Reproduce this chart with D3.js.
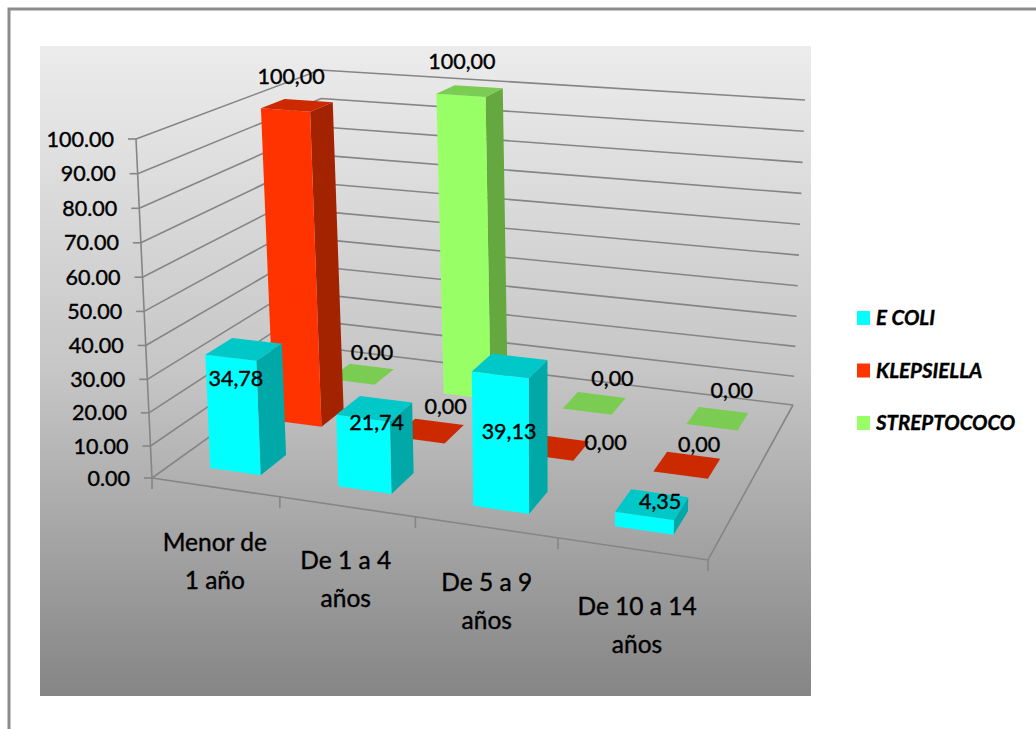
<!DOCTYPE html>
<html lang="es">
<head>
<meta charset="utf-8">
<title>Bacterias por grupo de edad</title>
<script src="https://cdn.jsdelivr.net/npm/d3@7/dist/d3.min.js"></script>
<style>
  html, body { margin: 0; padding: 0; background: #fff; }
  svg { display: block; }
  text { font-family: Lato, "Open Sans", sans-serif; fill: #000; stroke: #000; stroke-width: 0.4px; }
</style>
</head>
<body>
<svg id="chart" width="1036" height="729"></svg>
<script>
// Data
const categories = [["Menor de", "1 año"], ["De 1 a 4", "años"], ["De 5 a 9", "años"], ["De 10 a 14", "años"]];
const seriesNames = ["E COLI", "KLEPSIELLA", "STREPTOCOCO"];
const eColi = [34.78, 21.74, 39.13, 4.35];
const klepsiella = [100, 0, 0, 0];
const streptococo = [0, 100, 0, 0];
const eColiLabels = ["34,78", "21,74", "39,13", "4,35"];
const klepsiellaLabels = ["100,00", "0,00", "0,00", "0,00"];
const streptococoLabels = ["0.00", "100,00", "0,00", "0,00"];
const valueTicks = [0, 10, 20, 30, 40, 50, 60, 70, 80, 90, 100];

const seriesValues = [eColi, klepsiella, streptococo];
const seriesLabels = [eColiLabels, klepsiellaLabels, streptococoLabels];

// Face colours per series
const palette = [
  { front: "#00ffff", top: "#00c8c8", side: "#00a8a8" },
  { front: "#ff3300", top: "#cc2900", side: "#a32300" },
  { front: "#99ff66", top: "#7acc52", side: "#64a83f" }
];

// Scene corners: floor and the plane at the axis maximum
const floorQuad = [[152, 478], [708, 560], [793, 405], [332, 349]];
const ceilQuad = [[136, 139], [720, 185], [805, 100], [320, 70]];

// Maps the unit square onto a quadrilateral with a perspective homography
function homography([p0, p1, p2, p3]) {
  const dx1 = p1[0] - p2[0], dx2 = p3[0] - p2[0], sx = p0[0] - p1[0] + p2[0] - p3[0];
  const dy1 = p1[1] - p2[1], dy2 = p3[1] - p2[1], sy = p0[1] - p1[1] + p2[1] - p3[1];
  const det = dx1 * dy2 - dx2 * dy1;
  const g = (sx * dy2 - dx2 * sy) / det, h = (dx1 * sy - sx * dy1) / det;
  const a = p1[0] - p0[0] + g * p1[0], b = p3[0] - p0[0] + h * p3[0];
  const d = p1[1] - p0[1] + g * p1[1], e = p3[1] - p0[1] + h * p3[1];
  return (s, t) => {
    const w = g * s + h * t + 1;
    return [(a * s + b * t + p0[0]) / w, (d * s + e * t + p0[1]) / w];
  };
}
const onFloor = homography(floorQuad);
const onCeil = homography(ceilQuad);

// Library scales for the three chart dimensions; the power scales stand in for extra foreshortening
const catScale = d3.scaleBand().domain(d3.range(categories.length)).range([0, 1]).paddingInner(0.6).paddingOuter(0.3);
const serScale = d3.scaleBand().domain(d3.range(seriesNames.length)).range([0, 1]).paddingInner(0.6).paddingOuter(0.3);
const valScale = d3.scalePow().exponent(1.025).domain([0, 100]).range([0, 1]);
const catEdge = d3.scaleLinear().domain([0, categories.length]).range([0, 1]);
const widthWarp = d3.scalePow().exponent(1.01).domain([0, 1]).range([0, 1]);

function project(s, t, value) {
  // The width warp fades out towards the back wall
  const su = d3.interpolateNumber(widthWarp(s), s)(t);
  const f = onFloor(su, t), c = onCeil(su, t), k = valScale(value);
  return [d3.interpolateNumber(f[0], c[0])(k), d3.interpolateNumber(f[1], c[1])(k)];
}

const svg = d3.select("#chart");
const defs = svg.append("defs");
const grad = defs.append("linearGradient").attr("id", "plotFill").attr("x1", 0).attr("y1", 0).attr("x2", 0).attr("y2", 1);
[[0, "#ececec"], [0.5, "#c6c6c6"], [1, "#858585"]].forEach(([o, c]) =>
  grad.append("stop").attr("offset", o).attr("stop-color", c));

// Outer frame and chart background
svg.append("rect").attr("x", 9).attr("y", 9).attr("width", 1100).attr("height", 800)
  .attr("fill", "#fff").attr("stroke", "#8c8c8c").attr("stroke-width", 3);
svg.append("rect").attr("x", 40).attr("y", 46).attr("width", 771).attr("height", 650).attr("fill", "url(#plotFill)");

const lineGen = d3.line();
const grid = svg.append("g").attr("fill", "none").attr("stroke", "#858585").attr("stroke-width", 1.6);

// Gridlines along the side and back walls
valueTicks.forEach(v => {
  grid.append("path").attr("d", lineGen([project(0, 0, v), project(0, 1, v), project(1, 1, v)]));
});

// Value axis with tick stubs and labels
grid.append("path").attr("d", lineGen([project(0, 0, 0), project(0, 0, 100)]));
valueTicks.forEach(v => {
  const p = project(0, 0, v);
  grid.append("path").attr("d", lineGen([[p[0] - 8, p[1]], p]));
  svg.append("text").attr("x", p[0] - 22).attr("y", p[1]).attr("dy", "0.35em")
    .attr("text-anchor", "end").attr("font-size", 21.5).text(d3.format(".2f")(v));
});

// Front and right floor edges with category ticks
grid.append("path").attr("d", lineGen([project(0, 0, 0), project(1, 0, 0), project(1, 1, 0)]));
d3.range(categories.length + 1).forEach(i => {
  const p = project(catEdge(i), 0, 0);
  grid.append("path").attr("d", lineGen([p, [p[0], p[1] + 11]]));
});

// Category labels, two lines each
const categoryNudge = [[0, 0], [-1, -1], [1, 0], [5, 3]];
categories.forEach((lines, i) => {
  const p = project(catEdge(i + 0.5), 0, 0);
  lines.forEach((line, j) => {
    svg.append("text").attr("x", p[0] + categoryNudge[i][0]).attr("y", p[1] + categoryNudge[i][1] + 55 + j * 38).attr("dy", "0.35em")
      .attr("text-anchor", "middle").attr("font-size", 24.5).text(line);
  });
});

// Bars, drawn from the back series to the front one, left to right
const bars = svg.append("g");
const poly = pts => lineGen(pts) + "Z";
d3.range(seriesNames.length).reverse().forEach(si => {
  categories.forEach((_, ci) => {
    const value = seriesValues[si][ci];
    const s0 = catScale(ci), s1 = s0 + catScale.bandwidth();
    const t0 = serScale(si), t1 = t0 + serScale.bandwidth();
    const col = palette[si];
    if (value > 0) {
      bars.append("path").attr("fill", col.side)
        .attr("d", poly([project(s1, t0, 0), project(s1, t1, 0), project(s1, t1, value), project(s1, t0, value)]));
      bars.append("path").attr("fill", col.front)
        .attr("d", poly([project(s0, t0, 0), project(s1, t0, 0), project(s1, t0, value), project(s0, t0, value)]));
    }
    bars.append("path").attr("fill", col.top)
      .attr("d", poly([project(s0, t0, value), project(s1, t0, value), project(s1, t1, value), project(s0, t1, value)]));
  });
});

// Data labels above or inside each bar
const labelNudge = [
  [[-8, 29], [2, 14], [-1, 66], [8, -3]],
  [[-6, -29], [16, -24], [50, -5], [12, -21]],
  [[10, -22], [-8, -29], [18, -25], [14, -28]]
];
seriesLabels.forEach((labels, si) => {
  labels.forEach((label, ci) => {
    const sc = catScale(ci) + catScale.bandwidth() / 2;
    const tc = serScale(si) + serScale.bandwidth() / 2;
    const p = project(sc, tc, seriesValues[si][ci]);
    const [nx, ny] = labelNudge[si][ci];
    svg.append("text").attr("x", p[0] + nx).attr("y", p[1] + ny).attr("dy", "0.35em")
      .attr("text-anchor", "middle").attr("font-size", 21.5).text(label);
  });
});

// Legend
const legendY = d3.scalePoint().domain(seriesNames).range([318, 423]);
seriesNames.forEach((name, i) => {
  const y = legendY(name);
  svg.append("rect").attr("x", 857).attr("y", y - 7).attr("width", 13).attr("height", 14).attr("fill", palette[i].front);
  svg.append("text").attr("x", 876).attr("y", y).attr("dy", "0.36em")
    .attr("font-size", 20.5).attr("font-style", "italic").attr("font-weight", 700).text(name);
});
</script>
</body>
</html>
